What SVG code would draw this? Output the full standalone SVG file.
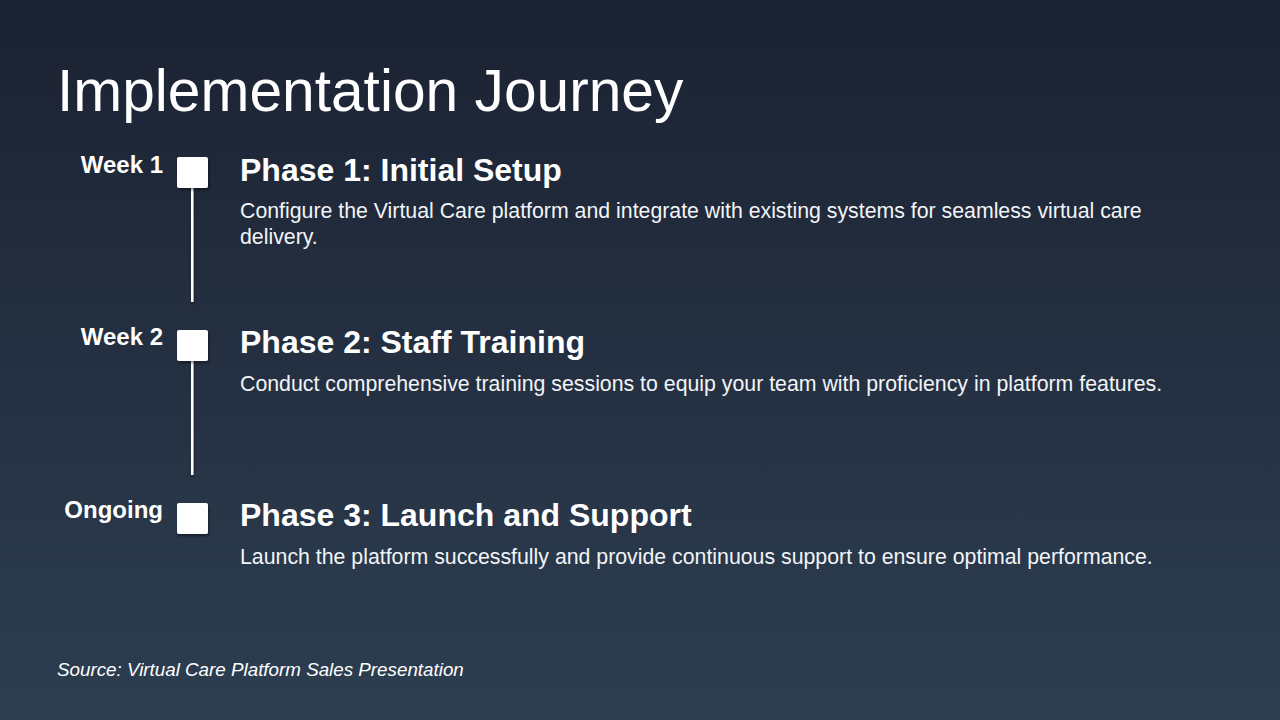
<svg xmlns="http://www.w3.org/2000/svg" width="1280" height="720" viewBox="0 0 1280 720">
<defs>
<linearGradient id="bg" x1="0" y1="0" x2="0" y2="1">
<stop offset="0" stop-color="#1b2232"/>
<stop offset="1" stop-color="#2d3e51"/>
</linearGradient>
<filter id="sh" x="-50%" y="-50%" width="200%" height="200%">
<feDropShadow dx="1" dy="2" stdDeviation="1.5" flood-color="#000" flood-opacity="0.45"/>
</filter>
<style>
text{font-family:"Liberation Sans",Arial,sans-serif;fill:#ffffff}
.title{font-size:58.7px}
.when{font-size:24px;font-weight:bold;text-anchor:end}
.head{font-size:32px;font-weight:bold}
.desc{font-size:21.3px;fill:#f2f4f7}
.src{font-size:18.8px;font-style:italic}
.box{fill:#ffffff;filter:url(#sh)}
.conn{fill:#ffffff;filter:url(#sh)}
</style>
</defs>
<rect width="1280" height="720" fill="url(#bg)"/>
<text class="title" x="57" y="111">Implementation Journey</text>
<g id="connectors">
<rect class="conn" x="191" y="187" width="2.5" height="115"/>
<rect class="conn" x="191" y="360" width="2.5" height="115"/>
</g>
<g id="phase1">
<text class="when" x="163" y="173">Week 1</text>
<rect class="box" x="177" y="157" width="31" height="31" rx="2"/>
<text class="head" x="240" y="181">Phase 1: Initial Setup</text>
<text class="desc" x="240" y="218">Configure the Virtual Care platform and integrate with existing systems for seamless virtual care</text>
<text class="desc" x="240" y="244">delivery.</text>
</g>
<g id="phase2">
<text class="when" x="163" y="345">Week 2</text>
<rect class="box" x="177" y="330" width="31" height="31" rx="2"/>
<text class="head" x="240" y="353">Phase 2: Staff Training</text>
<text class="desc" x="240" y="391">Conduct comprehensive training sessions to equip your team with proficiency in platform features.</text>
</g>
<g id="phase3">
<text class="when" x="163" y="518">Ongoing</text>
<rect class="box" x="177" y="503" width="31" height="31" rx="2"/>
<text class="head" x="240" y="526">Phase 3: Launch and Support</text>
<text class="desc" x="240" y="564">Launch the platform successfully and provide continuous support to ensure optimal performance.</text>
</g>
<text class="src" x="57" y="676">Source: Virtual Care Platform Sales Presentation</text>
</svg>
